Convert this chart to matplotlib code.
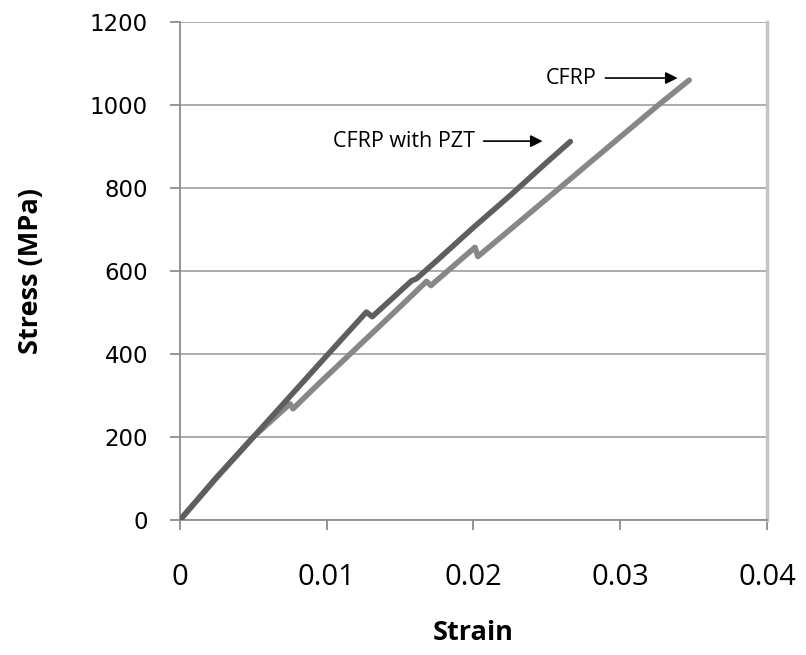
import numpy as np
import matplotlib.pyplot as plt

# Courbes contrainte / deformation
strain_pzt = [0.0, 0.0025, 0.005, 0.0075, 0.010, 0.0127, 0.0131, 0.0145, 0.0158,
              0.0161, 0.0175, 0.0200, 0.0225, 0.0250, 0.0266]
stress_pzt = [0, 103, 200, 298, 396, 501, 490, 535, 577, 581, 625, 705, 782, 862, 912]

strain_cfrp = [0.0, 0.0025, 0.005, 0.0075, 0.0077, 0.0095, 0.011, 0.0130, 0.0150,
               0.0168, 0.0171, 0.0185, 0.0201, 0.0203, 0.0225, 0.0259, 0.0300, 0.0327, 0.0347]
stress_cfrp = [0, 102, 200, 280, 268, 330, 380, 447, 514, 575, 565, 608, 657, 635, 700, 801,
               923, 1003, 1060]

xticks = [0, 0.01, 0.02, 0.03, 0.04]
xlabels = ["0", "0.01", "0.02", "0.03", "0.04"]
yticks = [0, 200, 400, 600, 800, 1000, 1200]

fig = plt.figure(figsize=(8.06, 6.55), dpi=100)
ax = fig.add_axes([0.2233, 0.2061, 0.9516 - 0.2233, 0.9664 - 0.2061])

ax.plot(strain_cfrp, stress_cfrp, color="#878787", lw=4, solid_capstyle="round", zorder=3)
ax.plot(strain_pzt, stress_pzt, color="#5e5e5e", lw=4, solid_capstyle="round", zorder=4)

ax.set_xlim(0, 0.04)
ax.set_ylim(0, 1200)
ax.set_xticks(xticks)
ax.set_xticklabels(xlabels, fontfamily="Open Sans", fontsize=21)
ax.set_yticks(yticks)
ax.set_yticklabels([str(v) for v in yticks], fontfamily="DejaVu Sans", fontsize=16.5)
ax.yaxis.grid(True, color="#a6a6a6", lw=1.3)
ax.set_axisbelow(True)

for s in ["left", "bottom"]:
    ax.spines[s].set_color("#8c8c8c")
    ax.spines[s].set_linewidth(1.3)
ax.spines["top"].set_visible(False)
ax.spines["right"].set_color("#c4c4c4")
ax.spines["right"].set_linewidth(2.5)
ax.tick_params(axis="x", direction="out", length=7, width=1.3, color="#8c8c8c", pad=24)
ax.tick_params(axis="y", direction="out", length=7, width=1.3, color="#8c8c8c", pad=16)

ax.set_xlabel("Strain", fontfamily="Open Sans", fontweight="bold", fontsize=19.5, labelpad=20)
ax.set_ylabel("Stress (MPa)", fontfamily="Open Sans", fontweight="bold", fontsize=19.5, labelpad=33)

# Etiquettes avec fleches
ax.annotate("", xy=(0.0249, 913), xytext=(0.0205, 913),
            arrowprops=dict(arrowstyle="-|>", color="black", lw=1.2, mutation_scale=18))
ax.text(0.0201, 913, "CFRP with PZT", ha="right", va="center", fontfamily="Open Sans", fontsize=15.5)
ax.annotate("", xy=(0.0341, 1065), xytext=(0.0288, 1065),
            arrowprops=dict(arrowstyle="-|>", color="black", lw=1.2, mutation_scale=18))
ax.text(0.0284, 1065, "CFRP", ha="right", va="center", fontfamily="Open Sans", fontsize=15.5)

plt.savefig("out.png", dpi=100)
